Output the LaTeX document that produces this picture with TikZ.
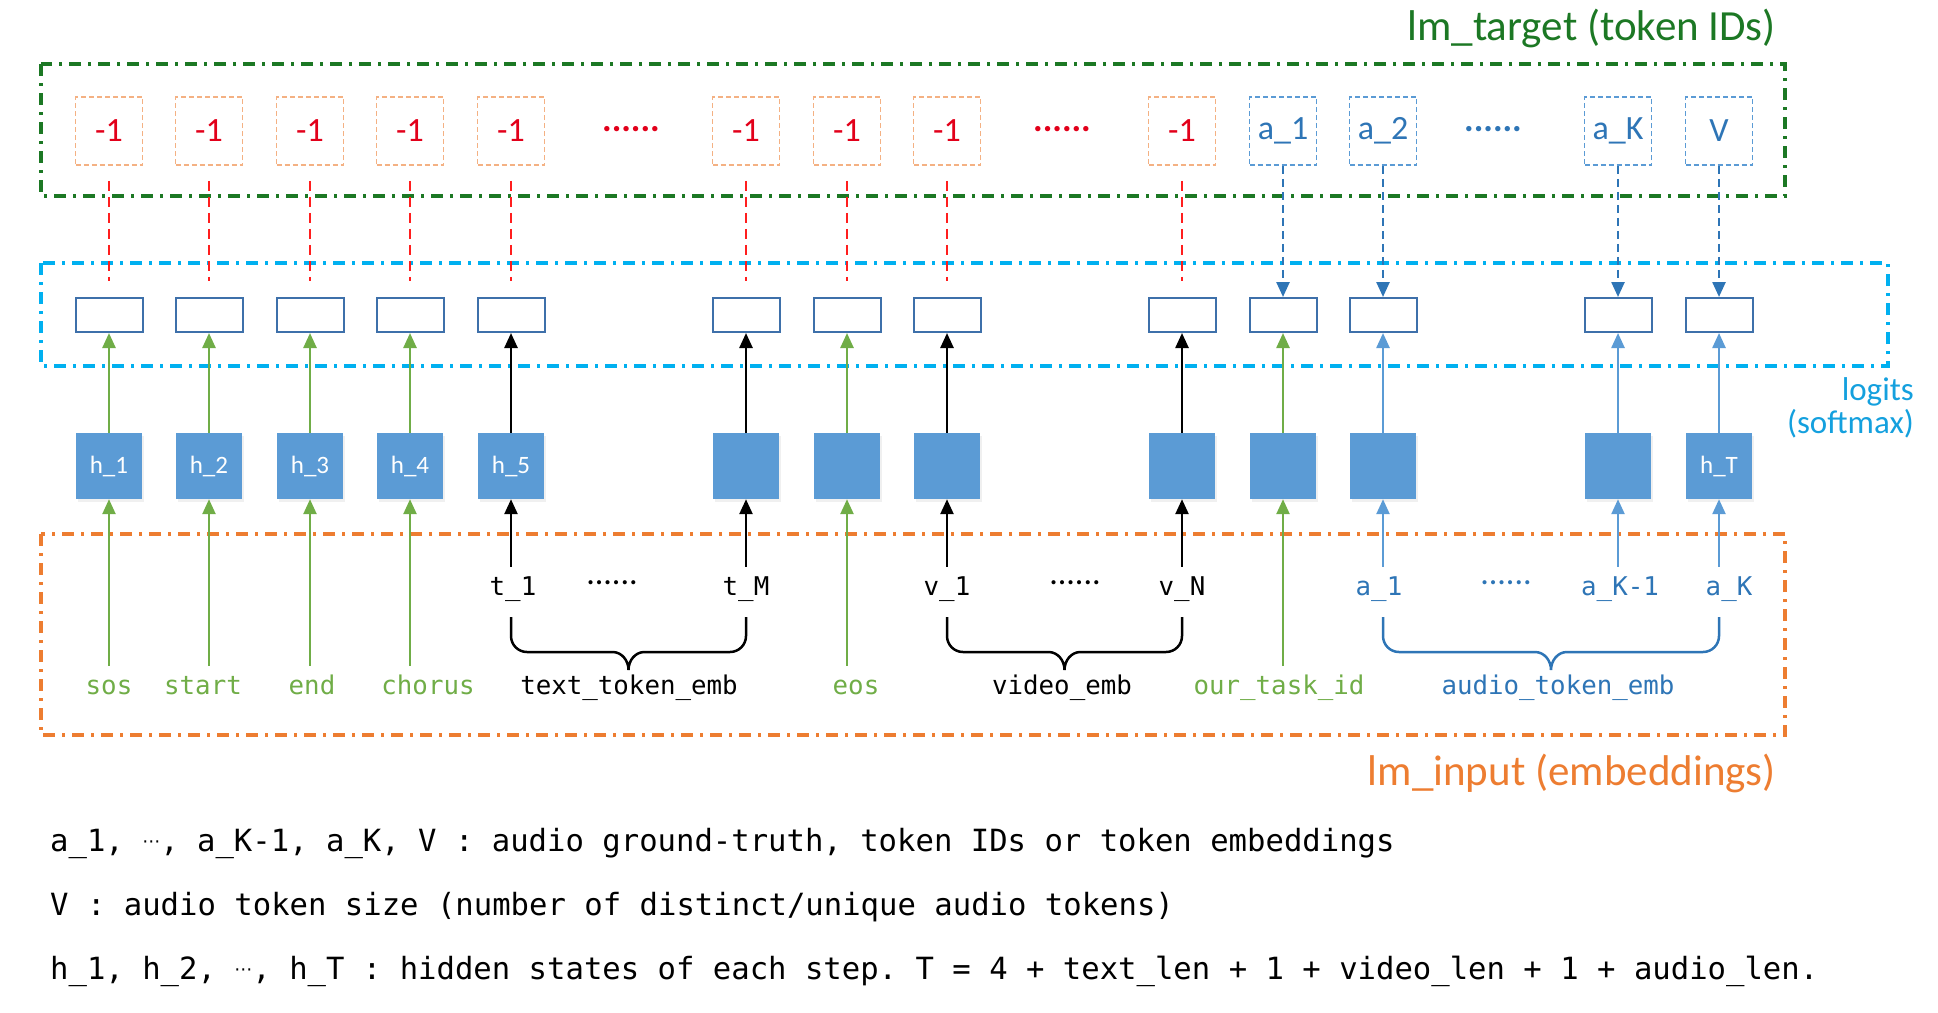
\documentclass[tikz,border=0pt]{standalone}
\usepackage{fontspec}
\setmainfont{Carlito}
\setmonofont{DejaVu Sans Mono}
\newfontfamily\dvsans{DejaVu Sans}
\usepackage{xcolor}
\usepackage{tikz}
\usetikzlibrary{arrows.meta,positioning,shadows}
\definecolor{colorDG}{RGB}{28,120,36}
\definecolor{colorC}{RGB}{0,176,240}
\definecolor{colorCt}{RGB}{20,160,222}
\definecolor{colorO}{RGB}{237,125,49}
\definecolor{colorG}{RGB}{112,173,71}
\definecolor{colorB}{RGB}{91,155,213}
\definecolor{colorDB}{RGB}{46,117,182}
\definecolor{colorR}{RGB}{226,0,26}
\definecolor{colorRl}{RGB}{255,30,30}
\definecolor{colorPk}{RGB}{244,177,131}
\definecolor{colorLb}{RGB}{62,112,170}
\tikzstyle{region}=[line width=4pt, dash pattern=on 12pt off 7pt on 3pt off 7pt]
\tikzstyle{ttl}=[font=\fontsize{43}{46}\selectfont, inner sep=0pt]
\tikzstyle{tgt}=[draw, line width=1.5pt, dash pattern=on 5pt off 3pt, minimum width=67pt, minimum height=68pt, inner sep=0pt, font=\fontsize{34}{38}\selectfont]
\tikzstyle{ign}=[tgt, draw=colorPk, text=colorR]
\tikzstyle{aud}=[tgt, draw=colorB, text=colorDB]
\tikzstyle{logit}=[draw=colorLb, line width=2pt, minimum width=67pt, minimum height=34pt, inner sep=0pt]
\tikzstyle{hid}=[fill=colorB, minimum size=66pt, inner sep=0pt, text=white, font=\fontsize{25}{28}\selectfont, drop shadow={opacity=0.12, shadow xshift=1.5pt, shadow yshift=-2.5pt}]
\tikzstyle{tok}=[font=\ttfamily\fontsize{25.8}{28}\selectfont, text height=18pt, text depth=6pt, inner sep=10pt, anchor=base]
\tikzstyle{gap}=[font=\fontsize{36}{38}\selectfont\bfseries, inner sep=0pt]
\tikzstyle{gaps}=[font=\fontsize{34}{38}\selectfont, inner sep=0pt]
\tikzstyle{up}=[-{Triangle[width=13pt,length=15pt]}, line width=2.5pt]
\tikzstyle{down}=[up, dash pattern=on 8pt off 5pt, colorDB]
\tikzstyle{nolab}=[draw=colorRl, line width=2.5pt, dash pattern=on 10pt off 6pt, shorten <=15pt, shorten >=16pt]
\tikzstyle{legend}=[font=\ttfamily\fontsize{30.6}{34}\selectfont, inner sep=0pt, anchor=base west]
\newcommand{\cdts}{\raisebox{4pt}{\dvsans\fontsize{18}{20}\selectfont ⋯}}
\newcommand{\brc}[3]{% arms at x=#1 and x=#2
  \pgfmathsetmacro\bm{(#1+#2)/2}
  \draw[#3, line width=2.5pt] (#1,-617) -- (#1,-636) to[out=-90,in=180] (#1+16,-652)
    -- (\bm-16,-652) to[out=0,in=90] (\bm,-670) to[out=90,in=180] (\bm+16,-652)
    -- (#2-16,-652) to[out=0,in=-90] (#2,-636) -- (#2,-617);}

\begin{document}
\begin{tikzpicture}[x=1pt,y=1pt]
\useasboundingbox (0,0) rectangle (1938,-1012);

% regions
\draw[region,colorDG] (41,-64) rectangle (1785,-196);
\draw[region,colorC] (41,-263) rectangle (1888,-366);
\draw[region,colorO] (41,-534) rectangle (1785,-735);
\node[ttl,text=colorDG,anchor=east] (titleTarget) at (1776,-28) {lm\_target (token IDs)};
\node[ttl,text=colorO,anchor=east] (titleInput) at (1776,-773) {lm\_input (embeddings)};
\node[ttl,text=colorCt,align=right,anchor=east,font=\fontsize{33}{33}\selectfont] (titleLogits) at (1914,-408) {logits\\(softmax)};

% lm_target
\foreach \n/\x in {1/109,2/209,3/310,4/410,5/511,6/746,7/847,8/947,9/1182}
  \node[ign] (t\n) at (\x,-131) {-1};
\foreach \n/\x/\a in {10/1283/a\_1,11/1383/a\_2,12/1618/a\_K,13/1719/V}
  \node[aud] (t\n) at (\x,-131) {\a};
\node[gap,text=colorR] (tgap1) at (631,-129) {......};
\node[gap,text=colorR] (tgap2) at (1062,-129) {......};
\node[gap,text=colorDB] (tgap3) at (1493,-129) {......};

% logits and hidden states
\foreach \n/\x/\h in {1/109/h\_1,2/209/h\_2,3/310/h\_3,4/410/h\_4,5/511/h\_5,6/746/{},7/847/{},8/947/{},9/1182/{},10/1283/{},11/1383/{},12/1618/{},13/1719/h\_T} {
  \node[logit] (l\n) at (\x,-315) {};
  \node[hid] (h\n) at (\x,-466) {\h};
}

% lm_input
\node[tok,text=colorG] (i1) at (109,-694) {sos};
\node[tok,text=colorG] (i2) at (203,-694) {start};
\node[tok,text=colorG] (i3) at (312,-694) {end};
\node[tok,text=colorG] (i4) at (428,-694) {chorus};
\node[tok] (i5) at (513,-595) {t\_1};
\node[tok] (i6) at (746,-595) {t\_M};
\node[tok,text=colorG] (i7) at (856,-694) {eos};
\node[tok] (i8) at (947,-595) {v\_1};
\node[tok] (i9) at (1182,-595) {v\_N};
\node[tok,text=colorG] (i10) at (1279,-694) {our\_task\_id};
\node[tok,text=colorDB] (i11) at (1379,-595) {a\_1};
\node[tok,text=colorDB] (i12) at (1620,-595) {a\_K-1};
\node[tok,text=colorDB] (i13) at (1729,-595) {a\_K};
\node[gaps] (igap1) at (612,-583) {......};
\node[gaps] (igap2) at (1075,-583) {......};
\node[gaps,text=colorDB] (igap3) at (1506,-583) {......};
\node[tok] (txt) at (629,-694) {text\_token\_emb};
\node[tok] (vid) at (1062,-694) {video\_emb};
\node[tok,text=colorDB] (aud) at (1558,-694) {audio\_token\_emb};
\brc{511}{746}{black}
\brc{947}{1182}{black}
\brc{1383}{1719}{colorDB}

% arrows
\foreach \n in {1,...,9} \draw[nolab] (t\n) -- (l\n);
\foreach \n in {10,...,13} \draw[down] (t\n) -- (l\n);
\foreach \n/\c in {1/colorG,2/colorG,3/colorG,4/colorG,5/black,6/black,7/colorG,8/black,9/black,10/colorG,11/colorB,12/colorB,13/colorB} {
  \draw[up,\c] (h\n) -- (l\n);
  \draw[up,\c] (h\n.south |- i\n.north) -- (h\n);
}

% legend
\node[legend] (leg1) at (50,-851) {a\_1, \cdts, a\_K-1, a\_K, V : audio ground-truth, token IDs or token embeddings};
\node[legend] (leg2) at (50,-915) {V : audio token size (number of distinct/unique audio tokens)};
\node[legend] (leg3) at (50,-979) {h\_1, h\_2, \cdts, h\_T : hidden states of each step. T = 4 + text\_len + 1 + video\_len + 1 + audio\_len.};
\end{tikzpicture}
\end{document}
